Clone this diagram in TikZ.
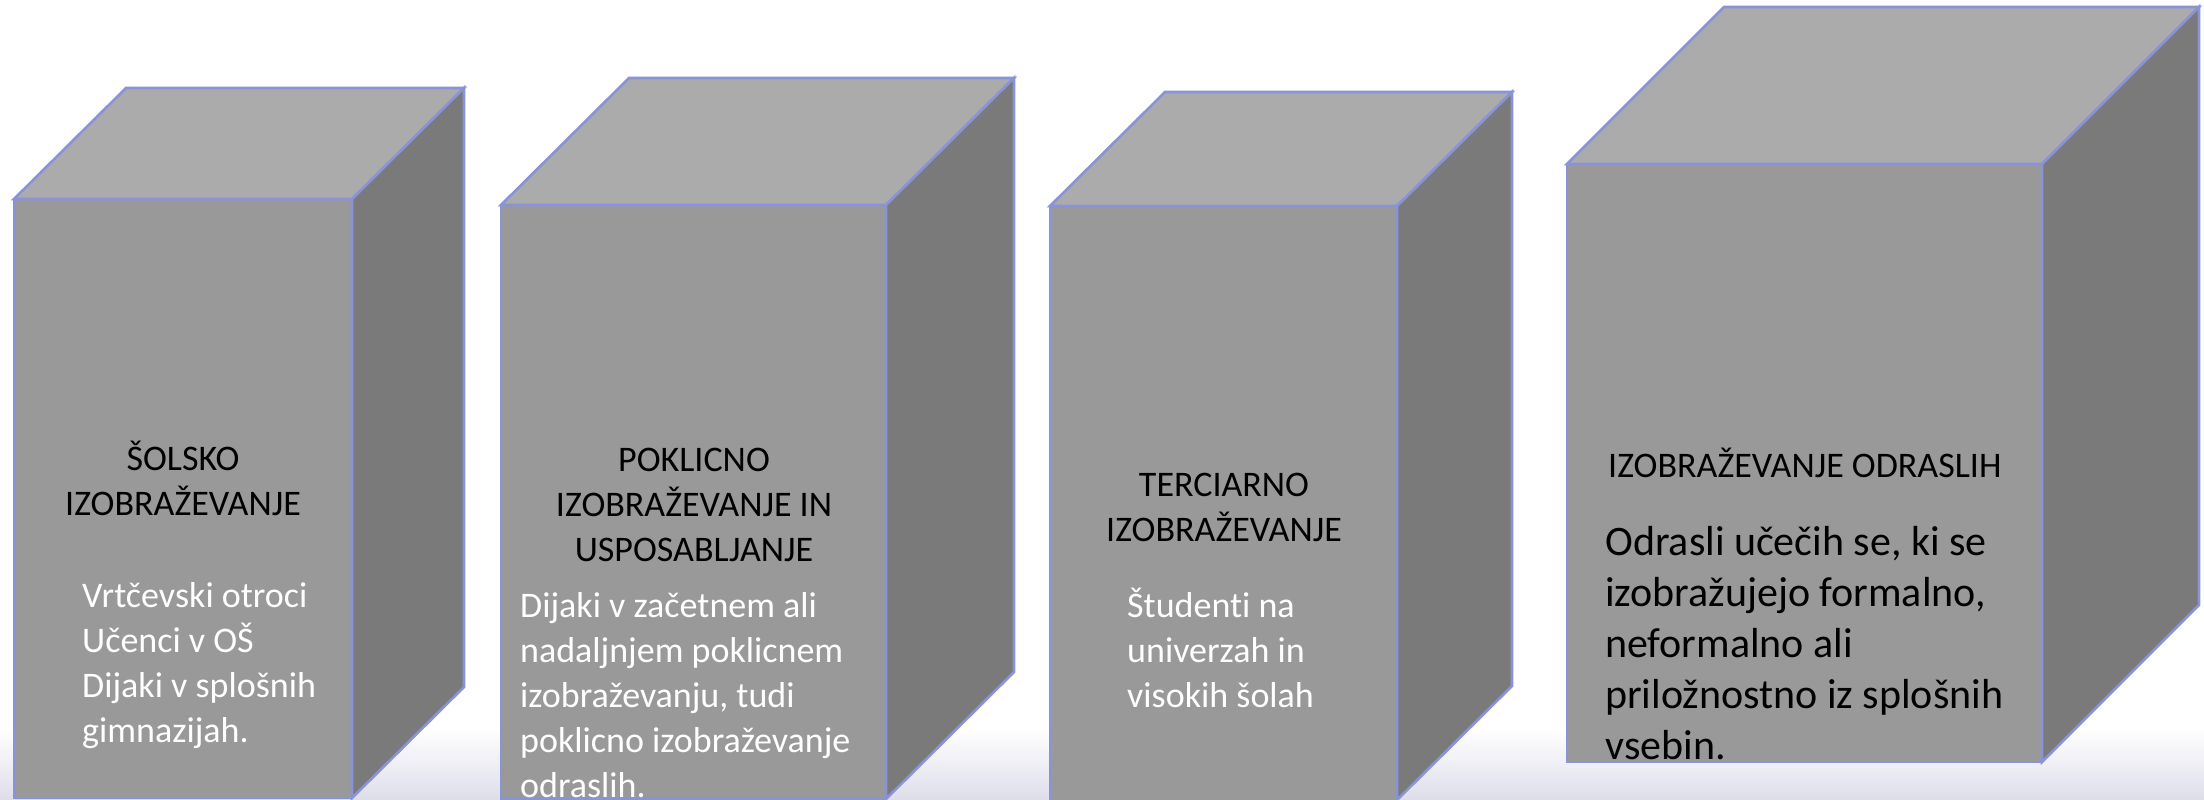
\documentclass[tikz,border=0pt]{standalone}
\usepackage{fontspec}
\setmainfont{Carlito}[Ligatures=NoCommon]
\definecolor{topc}{HTML}{ABABAB}
\definecolor{frontc}{HTML}{999999}
\definecolor{sidec}{HTML}{7A7A7A}
\definecolor{edgec}{HTML}{8A93D8}
\definecolor{lav}{HTML}{DEDEEB}
\tikzset{
  face/.style={draw=edgec, line width=2.6pt, line join=miter},
  head/.style={inner sep=0pt, font=\fontsize{36}{45}\selectfont, text=black},
  body/.style={inner sep=0pt, font=\fontsize{36}{45}\selectfont, text=white},
  bigbody/.style={inner sep=0pt, font=\fontsize{42}{51}\selectfont, text=black}
}
% #1 x-left, #2 x-right, #3 front top y, #4 bottom y, #5 dx, #6 dy
\newcommand{\drawcube}[6]{%
  \fill[face, fill=frontc] (#1,#3) rectangle (#2,#4);
  \fill[face, fill=topc] (#1,#3) -- ({#1+#5},{#3-#6}) -- ({#2+#5},{#3-#6}) -- (#2,#3) -- cycle;
  \fill[face, fill=sidec] (#2,#3) -- ({#2+#5},{#3-#6}) -- ({#2+#5},{#4-#6}) -- (#2,#4) -- cycle;
}
\begin{document}
\begin{tikzpicture}[x=1pt,y=-1pt]
\useasboundingbox (0,0) rectangle (2204,800);
\fill[white] (0,0) rectangle (2204,800);
\shade[top color=white, bottom color=lav] (0,728) rectangle (2204,800);

\drawcube{14}{352}{199}{798}{112}{111}
\drawcube{501}{886}{205}{799}{128}{127}
\drawcube{1050}{1397}{206}{800}{115}{114}
\drawcube{1567}{2042}{164}{762}{157}{157}

\node[head, anchor=base] (h1) at (183,470) {\begin{tabular}[t]{@{}c@{}}ŠOLSKO\\IZOBRAŽEVANJE\end{tabular}};
\node[body, anchor=base west] (b1) at (82,607) {\begin{tabular}[t]{@{}l@{}}Vrtčevski otroci\\Učenci v OŠ\\Dijaki v splošnih\\gimnazijah.\end{tabular}};

\node[head, anchor=base] (h2) at (694,471) {\begin{tabular}[t]{@{}c@{}}POKLICNO\\IZOBRAŽEVANJE IN\\USPOSABLJANJE\end{tabular}};
\node[body, anchor=base west] (b2) at (520,617) {\begin{tabular}[t]{@{}l@{}}Dijaki v začetnem ali\\nadaljnjem poklicnem\\izobraževanju, tudi\\poklicno izobraževanje\\odraslih.\end{tabular}};

\node[head, anchor=base] (h3) at (1224,496) {\begin{tabular}[t]{@{}c@{}}TERCIARNO\\IZOBRAŽEVANJE\end{tabular}};
\node[body, anchor=base west] (b3) at (1127,617) {\begin{tabular}[t]{@{}l@{}}Študenti na\\univerzah in\\visokih šolah\end{tabular}};

\node[head, anchor=base west] (h4) at (1608,477) {IZOBRAŽEVANJE ODRASLIH};
\node[bigbody, anchor=base west] (b4) at (1605,555) {\begin{tabular}[t]{@{}l@{}}Odrasli učečih se, ki se\\izobražujejo formalno,\\neformalno ali\\priložnostno iz splošnih\\vsebin.\end{tabular}};
\end{tikzpicture}
\end{document}
